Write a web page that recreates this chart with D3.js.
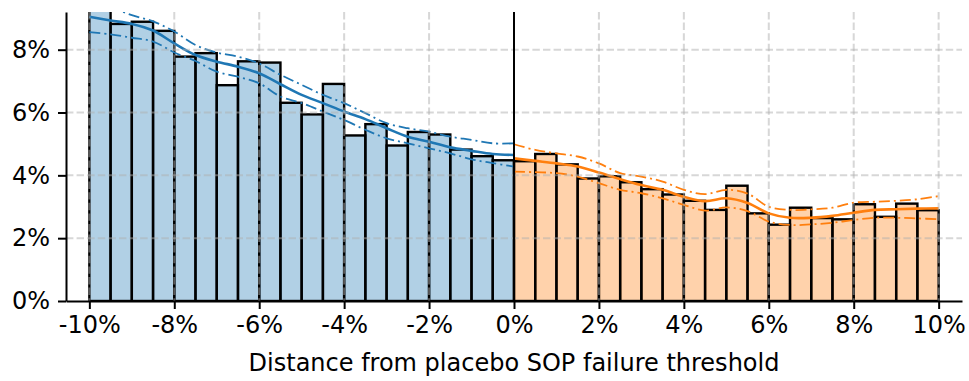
<!DOCTYPE html>
<html>
<head>
<meta charset="utf-8">
<script src="https://cdn.jsdelivr.net/npm/d3@7"></script>
<style>
  body { margin: 0; background: #fff; }
  text { font-family: "DejaVu Sans", sans-serif; }
</style>
</head>
<body>
<div class="chart"></div>
<script>
// histogram bins (left edge, %), bin width 0.5
const binLeft = [-10, -9.5, -9, -8.5, -8, -7.5, -7, -6.5, -6, -5.5, -5, -4.5, -4, -3.5, -3, -2.5, -2, -1.5, -1, -0.5,
                 0, 0.5, 1, 1.5, 2, 2.5, 3, 3.5, 4, 4.5, 5, 5.5, 6, 6.5, 7, 7.5, 8, 8.5, 9, 9.5];
const binShare = [9.4, 8.82, 8.89, 8.6, 7.78, 7.89, 6.87, 7.63, 7.59, 6.31, 5.94, 6.91, 5.27, 5.63, 4.95, 5.38, 5.3, 4.82, 4.61, 4.48,
                  4.45, 4.68, 4.35, 3.9, 3.97, 3.78, 3.56, 3.39, 3.19, 2.9, 3.67, 2.79, 2.43, 2.97, 2.64, 2.6, 3.08, 2.68, 3.1, 2.89];

// fitted lines + bands, left of threshold
const fitXLeft = [-10, -9.5, -9, -8.5, -8, -7.5, -7, -6.5, -6, -5.5, -5, -4.5, -4, -3.5, -3, -2.5, -2, -1.5, -1, -0.5, 0];
const fitLeft  = [9.05, 8.93, 8.82, 8.61, 8.2, 7.83, 7.62, 7.46, 7.25, 6.9, 6.56, 6.3, 6.03, 5.79, 5.5, 5.23, 5.07, 4.89, 4.78, 4.68, 4.65];
const hiLeft   = [9.6, 9.35, 9.1, 8.9, 8.58, 8.15, 7.91, 7.78, 7.56, 7.2, 6.88, 6.56, 6.3, 5.98, 5.66, 5.5, 5.39, 5.23, 5.13, 5.02, 5.02];
const loLeft   = [8.56, 8.49, 8.38, 8.26, 7.91, 7.64, 7.3, 7.14, 6.93, 6.51, 6.3, 6.03, 5.76, 5.45, 5.18, 5.02, 4.86, 4.7, 4.51, 4.39, 4.28];

// right of threshold
const fitXRight = [0, 0.5, 1, 1.5, 2, 2.5, 3, 3.5, 4, 4.5, 5, 5.5, 6, 6.5, 7, 7.5, 8, 8.5, 9, 9.5, 10];
const fitRight  = [4.54, 4.46, 4.38, 4.28, 4.09, 3.88, 3.69, 3.54, 3.32, 3.18, 3.27, 3.12, 2.79, 2.65, 2.65, 2.71, 2.81, 2.9, 2.92, 2.94, 2.95];
const hiRight   = [4.99, 4.81, 4.7, 4.6, 4.38, 4.07, 3.96, 3.8, 3.54, 3.4, 3.54, 3.42, 3.0, 2.9, 2.92, 2.97, 3.13, 3.16, 3.19, 3.24, 3.34];
const loRight   = [4.12, 4.1, 4.07, 3.96, 3.75, 3.54, 3.43, 3.27, 3.06, 2.88, 2.98, 2.86, 2.53, 2.42, 2.44, 2.49, 2.58, 2.65, 2.65, 2.63, 2.6];

const xTicks = [-10, -8, -6, -4, -2, 0, 2, 4, 6, 8, 10];
const yTicks = [0, 2, 4, 6, 8];

const binWidth = 0.5;
const blue = '#1f77b4', orange = '#ff7f0e';

const svg_width = 969, svg_height = 381;
const margin = {top: 12, right: 7, bottom: 80, left: 66};
const w = svg_width - margin.left - margin.right;
const h = svg_height - margin.top - margin.bottom;

const svg = d3.select('.chart').append('svg')
  .attr('width', svg_width).attr('height', svg_height);
const g = svg.append('g').attr('transform', `translate(${margin.left},${margin.top})`);

const x = d3.scaleLinear().domain([-10.55, 10.55]).range([0, w]);
const y = d3.scaleLinear().domain([0, 9.2]).range([h, 0]);

svg.append('defs').append('clipPath').attr('id', 'plot')
  .append('rect').attr('width', w).attr('height', h);

const plot = g.append('g').attr('clip-path', 'url(#plot)');

// bars
const bins = binLeft.map((b, i) => ({x0: b, v: binShare[i]}));
plot.selectAll('.bar').data(bins).enter().append('rect')
  .attr('class', 'bar')
  .attr('x', d => x(d.x0))
  .attr('width', d => x(d.x0 + binWidth) - x(d.x0))
  .attr('y', d => y(d.v))
  .attr('height', d => y(0) - y(d.v))
  .style('fill', d => d.x0 < 0 ? blue : orange)
  .style('fill-opacity', 0.35)
  .style('stroke', '#000')
  .style('stroke-width', 2.4);

// grid (drawn above bars)
const grid = g.append('g').attr('class', 'grid');
grid.selectAll('.gx').data(xTicks).enter().append('line')
  .attr('x1', d => x(d)).attr('x2', d => x(d)).attr('y1', 0).attr('y2', h);
grid.selectAll('.gy').data(yTicks.slice(1)).enter().append('line')
  .attr('x1', 0).attr('x2', w).attr('y1', d => y(d)).attr('y2', d => y(d));
grid.selectAll('line')
  .style('stroke', '#b0b0b0').style('stroke-opacity', 0.5)
  .style('stroke-width', 2).style('stroke-dasharray', '7.4,3.2');

// threshold line
g.append('line').attr('x1', x(0)).attr('x2', x(0)).attr('y1', 0).attr('y2', h)
  .style('stroke', '#000').style('stroke-width', 2);

// fit + band lines
function drawSet(xs, fit, hi, lo, color){
  const line = d3.line().x(d => x(d[0])).y(d => y(d[1])).curve(d3.curveCatmullRom);
  const pts = arr => xs.map((v, i) => [v, arr[i]]);
  plot.append('path').attr('d', line(pts(fit)))
    .style('fill', 'none').style('stroke', color).style('stroke-width', 2.6);
  [hi, lo].forEach(a => {
    plot.append('path').attr('d', line(pts(a)))
      .style('fill', 'none').style('stroke', color).style('stroke-width', 1.8)
      .style('stroke-dasharray', '11,4,2,4');
  });
}
drawSet(fitXLeft, fitLeft, hiLeft, loLeft, blue);
drawSet(fitXRight, fitRight, hiRight, loRight, orange);

// axes
const xAxis = d3.axisBottom(x).tickValues(xTicks).tickFormat(d => d + '%')
  .tickSizeInner(8).tickSizeOuter(0).tickPadding(7);
const xAxisDraw = g.append('g').attr('transform', `translate(0,${h})`).call(xAxis);
const yAxis = d3.axisLeft(y).tickValues(yTicks).tickFormat(d => d + '%')
  .tickSizeInner(8).tickSizeOuter(0).tickPadding(8);
const yAxisDraw = g.append('g').call(yAxis);

[xAxisDraw, yAxisDraw].forEach(a => {
  a.select('.domain').style('stroke', '#000').style('stroke-width', 2);
  a.selectAll('.tick line').style('stroke', '#000').style('stroke-width', 2);
  a.selectAll('text').style('font-size', '24px').style('fill', '#000')
    .style('font-family', '"DejaVu Sans", sans-serif');
});

g.append('text')
  .attr('x', w / 2).attr('y', h + 70)
  .style('text-anchor', 'middle')
  .style('font-size', '24px')
  .text('Distance from placebo SOP failure threshold');
</script>
</body>
</html>
